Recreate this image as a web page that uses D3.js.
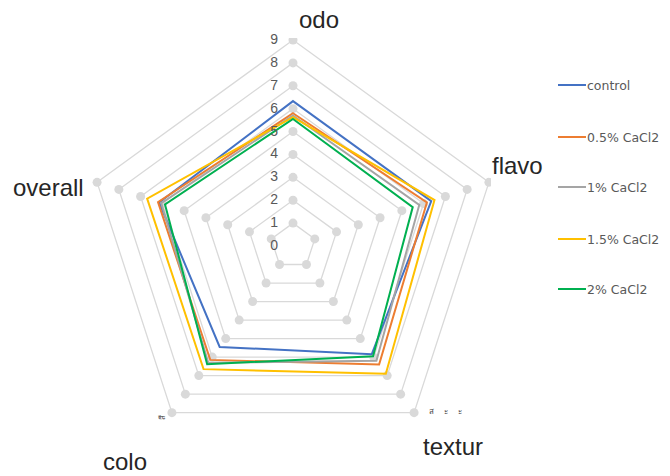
<!DOCTYPE html>
<html>
<head>
<meta charset="utf-8">
<script src="https://cdn.jsdelivr.net/npm/d3@7"></script>
<style>
  html, body { margin: 0; padding: 0; background: #fff; }
  svg { display: block; }
</style>
</head>
<body>
<svg id="chart" width="670" height="476"></svg>
<script>
// Sensory scores per attribute (0–9 hedonic scale)
const categories = ["odo", "flavo", "textur", "colo", "overall"];
const seriesNames = ["control", "0.5% CaCl2", "1% CaCl2", "1.5% CaCl2", "2% CaCl2"];
const control   = [6.33, 6.35, 5.85, 5.45, 6.15];
const caCl05    = [5.80, 6.15, 6.40, 6.15, 6.20];
const caCl1     = [5.70, 5.80, 6.20, 6.30, 6.05];
const caCl15    = [5.63, 6.50, 6.90, 6.65, 6.70];
const caCl2     = [5.55, 5.50, 5.95, 6.38, 5.88];
const tickLabels = ["0", "1", "2", "3", "4", "5", "6", "7", "8", "9"];
const colors = ["#4472C4", "#ED7D31", "#A5A5A5", "#FFC000", "#00B050"];

const seriesValues = [control, caCl05, caCl1, caCl15, caCl2];

const svg = d3.select("#chart");
const cx = 293, cy = 246;
const r = d3.scaleLinear().domain([0, 9]).range([0, 206]);
const angle = d3.scalePoint().domain(categories).range([0, 2 * Math.PI * 4 / 5]);

const pt = (cat, v) => {
  const a = angle(cat);
  return [cx + r(v) * Math.sin(a), cy - r(v) * Math.cos(a)];
};

// plot-area clip
svg.append("defs").append("clipPath").attr("id", "plotClip")
  .append("rect").attr("x", 0).attr("y", 38).attr("width", 491).attr("height", 400);

const plot = svg.append("g").attr("clip-path", "url(#plotClip)");

const levels = d3.range(1, 10);
const radial = d3.lineRadial()
  .angle(d => angle(d.cat))
  .radius(d => r(d.v))
  .curve(d3.curveLinearClosed);

// grid pentagons
const grid = plot.append("g").attr("transform", `translate(${cx},${cy})`);
levels.forEach(l => {
  grid.append("path")
    .attr("d", radial(categories.map(c => ({cat: c, v: l}))))
    .attr("fill", "none")
    .attr("stroke", "#d9d9d9")
    .attr("stroke-width", 1.3);
});
// grid vertex markers
levels.forEach(l => {
  categories.forEach(c => {
    const [x, y] = pt(c, l);
    plot.append("circle")
      .attr("cx", x).attr("cy", y).attr("r", 4.5)
      .attr("fill", "#d9d9d9");
  });
});

// series polygons
const series = plot.append("g").attr("transform", `translate(${cx},${cy})`);
seriesValues.forEach((vals, i) => {
  series.append("path")
    .attr("d", radial(categories.map((c, j) => ({cat: c, v: vals[j]}))))
    .attr("fill", "none")
    .attr("stroke", colors[i])
    .attr("stroke-width", 2)
    .attr("stroke-linejoin", "miter");
});

// radial tick labels
svg.append("g").selectAll("text").data(tickLabels).join("text")
  .attr("x", 278)
  .attr("y", d => cy - r(+d) + 4)
  .attr("text-anchor", "end")
  .attr("font-family", "Liberation Sans, Arial, sans-serif")
  .attr("font-size", 14)
  .attr("fill", "#595959")
  .text(d => d);

// category labels
const catPos = {
  "odo":     {x: 299, y: 28},
  "flavo":   {x: 492, y: 174},
  "textur":  {x: 423, y: 455},
  "colo":    {x: 103, y: 470},
  "overall": {x: 13,  y: 196}
};
svg.append("g").selectAll("text").data(categories).join("text")
  .attr("x", d => catPos[d].x)
  .attr("y", d => catPos[d].y)
  .attr("font-family", "Liberation Sans, Arial, sans-serif")
  .attr("font-size", 24)
  .attr("fill", "#262626")
  .text(d => d);

// small Thai glyph fragments near the lower axes
svg.append("text")
  .attr("x", 429).attr("y", 414)
  .attr("font-family", "Noto Sans, DejaVu Sans, sans-serif")
  .attr("font-size", 8).attr("fill", "#404040")
  .attr("letter-spacing", 4)
  .text("ส ะ ะ");
svg.append("text")
  .attr("transform", "translate(165,420) rotate(-90)")
  .attr("font-family", "Noto Sans, DejaVu Sans, sans-serif")
  .attr("font-size", 8).attr("fill", "#404040")
  .text("สี");

// legend
const legendY = [85, 137, 187, 239, 289];
const legend = svg.append("g");
seriesNames.forEach((name, i) => {
  legend.append("line")
    .attr("x1", 558).attr("x2", 586)
    .attr("y1", legendY[i]).attr("y2", legendY[i])
    .attr("stroke", colors[i]).attr("stroke-width", 2);
  legend.append("text")
    .attr("x", 587).attr("y", legendY[i] + 4.5)
    .attr("font-family", "DejaVu Sans, sans-serif")
    .attr("font-size", 12.5)
    .attr("fill", "#595959")
    .text(name);
});
</script>
</body>
</html>
